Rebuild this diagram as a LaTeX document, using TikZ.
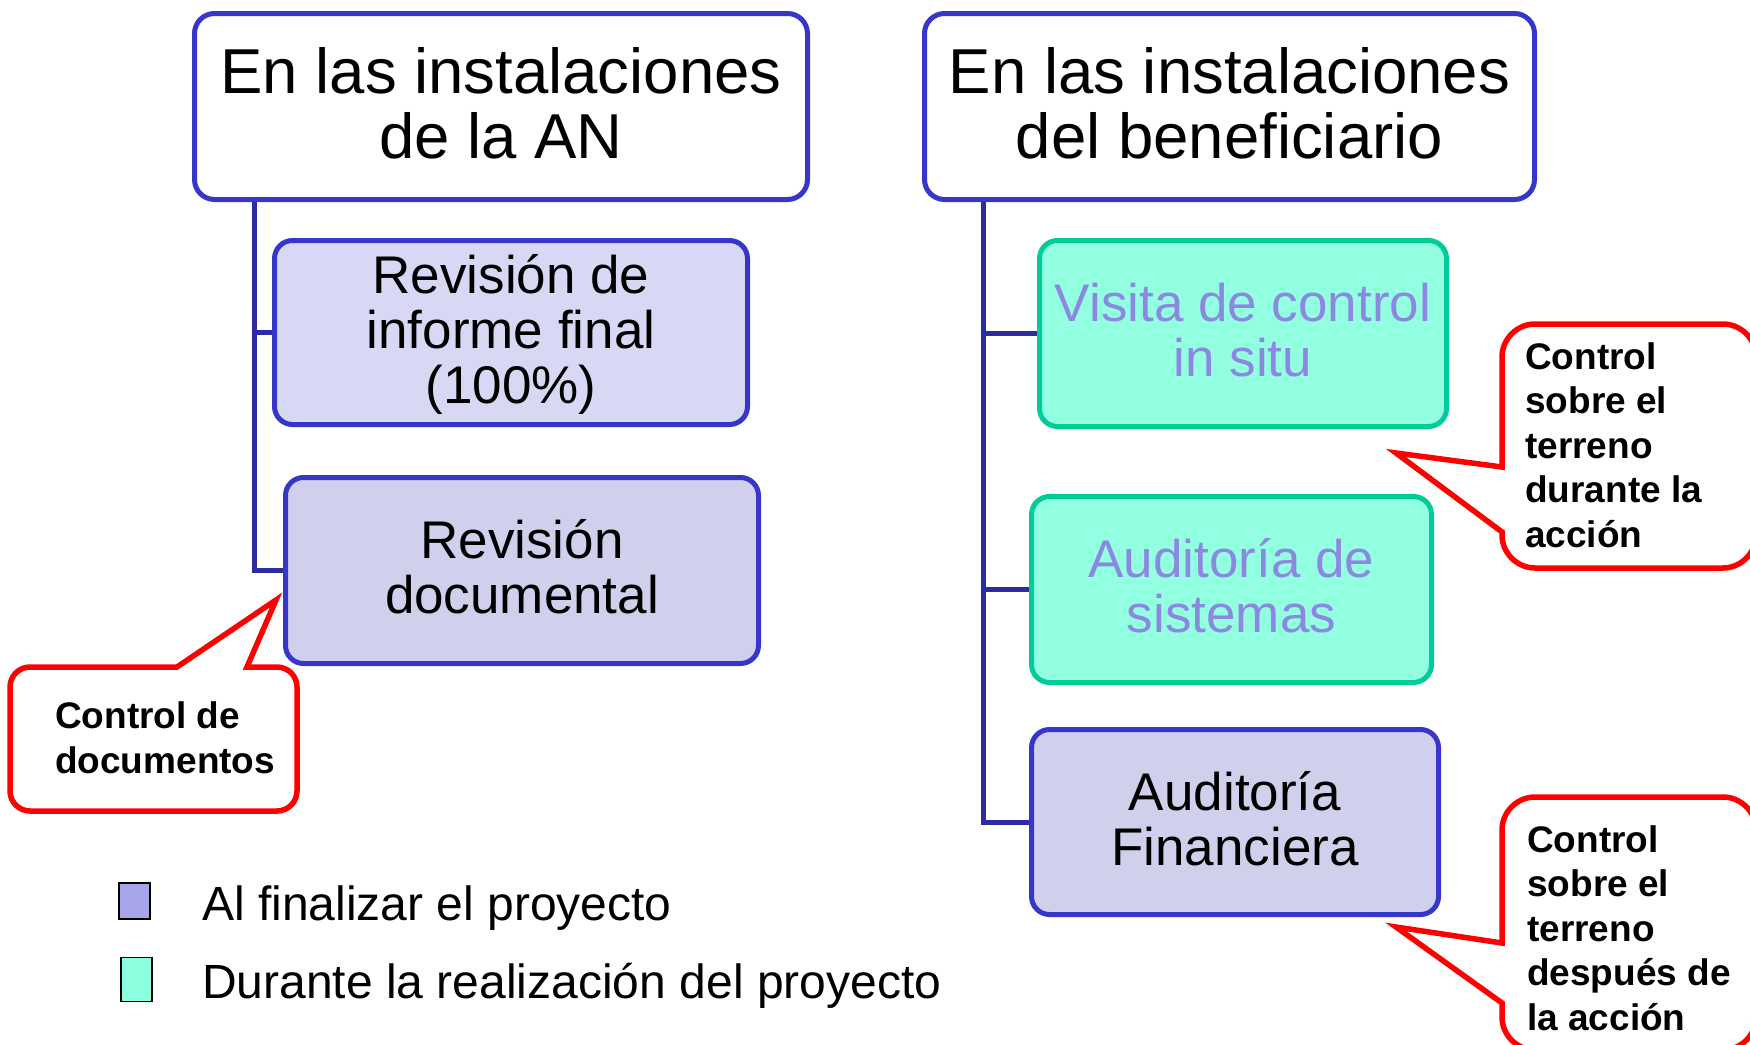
\documentclass[tikz,border=0pt]{standalone}
\usepackage{fontspec}
\setmainfont{Liberation Sans}
\usetikzlibrary{backgrounds}
\definecolor{boxblue}{HTML}{3636C8}
\definecolor{connblue}{HTML}{2C2CA2}
\definecolor{lavA}{HTML}{D6D8F4}
\definecolor{lavB}{HTML}{D0D0EC}
\definecolor{mint}{HTML}{92FFE0}
\definecolor{mintline}{HTML}{00CC99}
\definecolor{purp}{HTML}{8C88E2}
\definecolor{legA}{HTML}{A6A6E8}
\definecolor{legB}{HTML}{8CFFDF}
\begin{document}
\begin{tikzpicture}[x=1pt,y=-1pt,
  titlebox/.style={draw=boxblue, line width=5pt, fill=white, rounded corners=20pt, align=center, inner sep=0pt,
    font=\fontsize{63.5}{65}\selectfont, text height=107pt, text depth=4pt},
  lavbox/.style={draw=boxblue, line width=5pt, rounded corners=18pt, align=center, inner sep=0pt,
    font=\fontsize{53}{55}\selectfont, text height=90pt, text depth=4pt},
  mintbox/.style={draw=mintline, fill=mint, line width=5pt, rounded corners=18pt, align=center, inner sep=0pt,
    text=purp, font=\fontsize{53}{55}\selectfont, text height=90pt, text depth=4pt},
  conn/.style={draw=connblue, line width=5pt},
  callout/.style={draw=red, fill=white, line width=5.5pt, line join=miter},
  ctext/.style={align=left, inner sep=0pt, font=\fontsize{37}{44.5}\selectfont\bfseries, anchor=base west},
  legbox/.style={draw=black, line width=1.5pt, inner sep=0pt},
  legtext/.style={anchor=base west, inner sep=0pt, font=\fontsize{48}{55}\selectfont}
]
\useasboundingbox (0,0) rectangle (1750,1044);
\clip (0,0) rectangle (1750,1044);

% title boxes
\node[titlebox, minimum width=613pt, minimum height=186pt] (an) at (501,106.5) {En las instalaciones\\de la AN};
\node[titlebox, minimum width=610pt, minimum height=186pt] (ben) at (1229.5,106.5) {En las instalaciones\\del beneficiario};

% left branch
\node[lavbox, fill=lavA, minimum width=473pt, minimum height=184pt, text height=145pt] (rif) at (511,332.5) {Revisión de\\informe final\\(100\%)};
\node[lavbox, fill=lavB, minimum width=473pt, minimum height=186pt, text height=89pt] (rdoc) at (522,570.5) {Revisión\\documental};

% right branch
\node[mintbox, minimum width=407pt, minimum height=186pt] (vis) at (1243,333.5) {Visita de control\\in situ};
\node[mintbox, minimum width=400pt, minimum height=186pt] (asis) at (1231.5,589.5) {Auditoría de\\sistemas};
\node[lavbox, fill=lavB, minimum width=407pt, minimum height=185pt] (afin) at (1235,822) {Auditoría\\Financiera};

% connectors
\coordinate (lroot) at (254,200);
\coordinate (rroot) at (983,200);
\begin{scope}[on background layer]
\draw[conn] (lroot) |- (rdoc.west);
\draw[conn] (lroot |- rif.west) -- (rif.west);
\draw[conn] (rroot) |- (afin.west);
\draw[conn] (rroot |- vis.west) -- (vis.west);
\draw[conn] (rroot |- asis.west) -- (asis.west);
\end{scope}

% callouts
\draw[callout] (177,667) -- (276,600) -- (247,667) -- (277,667)
  .. controls (288,667) and (297,676) .. (297,687) -- (297,791)
  .. controls (297,802) and (288,811) .. (277,811) -- (30,811)
  .. controls (19,811) and (10,802) .. (10,791) -- (10,687)
  .. controls (10,676) and (19,667) .. (30,667) -- cycle;
\node[ctext] (c1) at (55,773) {Control de\\documentos};

\draw[callout] (1502,467) -- (1396,453) -- (1502,532) -- (1502,535)
  .. controls (1502,553) and (1517,568) .. (1535,568) -- (1723,568)
  .. controls (1741,568) and (1756,553) .. (1756,535) -- (1756,357)
  .. controls (1756,339) and (1741,324) .. (1723,324) -- (1535,324)
  .. controls (1517,324) and (1502,339) .. (1502,357) -- cycle;
\node[ctext] (c2) at (1525,547) {Control\\sobre el\\terreno\\durante la\\acción};

\draw[callout] (1502,943) -- (1396,927) -- (1502,1003) -- (1502,1017)
  .. controls (1502,1035) and (1517,1050) .. (1535,1050) -- (1723,1050)
  .. controls (1741,1050) and (1756,1035) .. (1756,1017) -- (1756,830)
  .. controls (1756,812) and (1741,797) .. (1723,797) -- (1535,797)
  .. controls (1517,797) and (1502,812) .. (1502,830) -- cycle;
\node[ctext] (c3) at (1527,1030) {Control\\sobre el\\terreno\\después de\\la acción};

% legend
\node[legbox, fill=legA, minimum width=31pt, minimum height=36pt] (k1) at (134.5,901) {};
\node[legbox, fill=legB, minimum width=31pt, minimum height=44pt] (k2) at (136.5,979.5) {};
\node[legtext] (t1) at (202,920) {Al finalizar el proyecto};
\node[legtext] (t2) at (202,998) {Durante la realización del proyecto};
\end{tikzpicture}
\end{document}
